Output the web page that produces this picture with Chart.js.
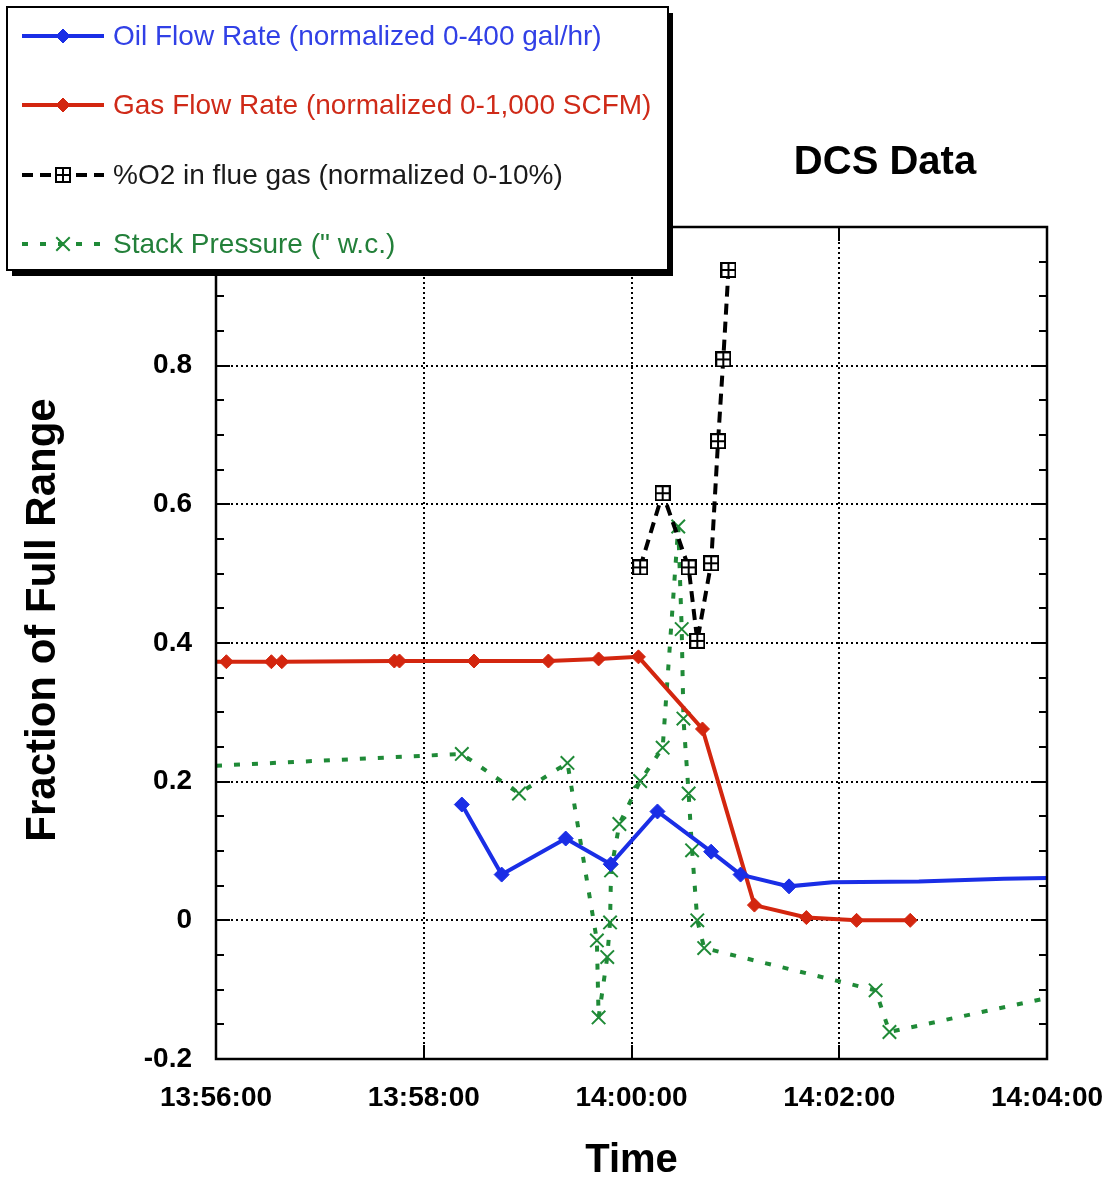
<!DOCTYPE html>
<html>
<head>
<meta charset="utf-8">
<title>DCS Data</title>
<style>
  html, body { margin: 0; padding: 0; background: #fff; }
</style>
<script src="https://cdn.jsdelivr.net/npm/chart.js@4.4.1/dist/chart.umd.min.js"></script>
</head>
<body>
<canvas id="dcs" width="1109" height="1185"></canvas>
<script>
'use strict';

// readings from the DCS log, values are fraction of full range
var oilTimes = ['13:58:22', '13:58:45', '13:59:22', '13:59:48', '14:00:15', '14:00:46',
  '14:01:03', '14:01:31', '14:01:56', '14:02:46', '14:03:35', '14:04:00'];
var oilValues = [0.167, 0.066, 0.118, 0.081, 0.157, 0.099, 0.066, 0.049, 0.055, 0.056, 0.060, 0.061];
var oilMarked = [1, 1, 1, 1, 1, 1, 1, 1, 0, 0, 0, 0];

var gasTimes = ['13:56:00', '13:56:06', '13:56:32', '13:56:38', '13:57:43', '13:57:46', '13:58:29',
  '13:59:12', '13:59:41', '14:00:04', '14:00:41', '14:01:11', '14:01:41', '14:02:10', '14:02:41'];
var gasValues = [0.373, 0.373, 0.373, 0.373, 0.374, 0.374, 0.374, 0.374, 0.377, 0.380,
  0.276, 0.022, 0.004, 0.0, 0.0];
var gasMarked = [0, 1, 1, 1, 1, 1, 1, 1, 1, 1, 1, 1, 1, 1, 1];

var o2Times = ['14:00:05', '14:00:18', '14:00:33', '14:00:38', '14:00:46', '14:00:50', '14:00:53', '14:00:56'];
var o2Values = [0.509, 0.616, 0.509, 0.403, 0.515, 0.691, 0.809, 0.938];

var pressTimes = ['13:56:00', '13:58:22', '13:58:55', '13:59:23', '13:59:40', '13:59:41', '13:59:46',
  '13:59:47.6', '13:59:48.2', '13:59:53', '14:00:05', '14:00:18', '14:00:27', '14:00:29', '14:00:30',
  '14:00:33', '14:00:35', '14:00:38', '14:00:42', '14:02:21', '14:02:29', '14:04:00'];
var pressValues = [0.223, 0.240, 0.183, 0.227, -0.029, -0.140, -0.053, -0.003, 0.072, 0.139, 0.201,
  0.249, 0.568, 0.420, 0.291, 0.183, 0.101, 0.0, -0.040, -0.101, -0.161, -0.112];
var pressMarked = [0, 1, 1, 1, 1, 1, 1, 1, 1, 1, 1, 1, 1, 1, 1, 1, 1, 1, 1, 1, 1, 0];

var timeTicks = ['13:56:00', '13:58:00', '14:00:00', '14:02:00', '14:04:00'];
var fracTicks = [-0.2, 0, 0.2, 0.4, 0.6, 0.8, 1.0];

function toSec(s) {
  var p = s.split(':');
  return (+p[0]) * 3600 + (+p[1]) * 60 + parseFloat(p[2]);
}
function fmtTime(v) {
  var h = Math.floor(v / 3600), m = Math.floor((v % 3600) / 60), s = Math.round(v % 60);
  var pad = function (n) { return (n < 10 ? '0' : '') + n; };
  return pad(h) + ':' + pad(m) + ':' + pad(s);
}
function points(times, values) {
  return times.map(function (t, i) { return { x: toSec(t), y: values[i] }; });
}
function radii(marked, r) {
  return marked.map(function (m) { return m ? r : 0; });
}

// little square with a plus in it, used for the O2 series
function boxPlus(size) {
  var c = document.createElement('canvas');
  c.width = size; c.height = size;
  var g = c.getContext('2d');
  g.fillStyle = '#fff';
  g.fillRect(0, 0, size, size);
  g.strokeStyle = '#000';
  g.lineWidth = 2;
  g.strokeRect(1, 1, size - 2, size - 2);
  g.beginPath();
  g.moveTo(size / 2, 1); g.lineTo(size / 2, size - 1);
  g.moveTo(1, size / 2); g.lineTo(size - 1, size / 2);
  g.stroke();
  return c;
}
var boxMark = boxPlus(16);

var FONT = '"Liberation Sans", Arial, Helvetica, sans-serif';
var xMin = toSec(timeTicks[0]), xMax = toSec(timeTicks[timeTicks.length - 1]);
var yMin = fracTicks[0], yMax = fracTicks[fracTicks.length - 1];

var dcsExtras = {
  id: 'dcsExtras',
  afterDraw: function (chart) {
    var ctx = chart.ctx, a = chart.chartArea;
    var xs = chart.scales.x, ys = chart.scales.y;
    ctx.save();
    // inward ticks on all four sides
    ctx.strokeStyle = '#000';
    ctx.lineWidth = 2;
    ctx.beginPath();
    for (var v = yMin; v <= yMax + 1e-9; v += 0.05) {
      var py = Math.round(ys.getPixelForValue(v));
      var major = Math.abs(v / 0.2 - Math.round(v / 0.2)) < 1e-6;
      var len = major ? 14 : 8;
      ctx.moveTo(a.left, py); ctx.lineTo(a.left + len, py);
      ctx.moveTo(a.right, py); ctx.lineTo(a.right - len, py);
    }
    timeTicks.forEach(function (t) {
      var px = Math.round(xs.getPixelForValue(toSec(t)));
      ctx.moveTo(px, a.bottom); ctx.lineTo(px, a.bottom - 14);
      ctx.moveTo(px, a.top); ctx.lineTo(px, a.top + 14);
    });
    ctx.stroke();
    ctx.lineWidth = 2.5;
    ctx.strokeRect(a.left, a.top, a.right - a.left, a.bottom - a.top);

    // y axis title
    ctx.save();
    ctx.translate(43, 620);
    ctx.rotate(-Math.PI / 2);
    ctx.fillStyle = '#000';
    ctx.font = 'bold 42px ' + FONT;
    ctx.textAlign = 'center';
    ctx.textBaseline = 'middle';
    ctx.fillText('Fraction of Full Range', 0, 0);
    ctx.restore();

    // chart title
    ctx.fillStyle = '#000';
    ctx.font = 'bold 40px ' + FONT;
    ctx.textAlign = 'center';
    ctx.textBaseline = 'middle';
    ctx.fillText('DCS Data', 885, 163);

    // legend box with drop shadow
    var bx = 7, by = 7, bw = 661, bh = 263;
    ctx.fillStyle = '#000';
    ctx.fillRect(bx + 5, by + 6, bw, bh);
    ctx.fillStyle = '#fff';
    ctx.fillRect(bx, by, bw, bh);
    ctx.lineWidth = 2;
    ctx.strokeStyle = '#000';
    ctx.strokeRect(bx, by, bw, bh);

    var textColors = ['#3140e6', '#cf2a18', '#1a1a1a', '#23803a'];
    var rows = [36, 105, 175, 244];
    chart.data.datasets.forEach(function (ds, i) {
      var y = rows[i];
      ctx.save();
      ctx.strokeStyle = ds.borderColor;
      ctx.lineWidth = ds.borderWidth;
      ctx.setLineDash(ds.borderDash || []);
      ctx.beginPath();
      ctx.moveTo(22, y); ctx.lineTo(104, y);
      ctx.stroke();
      ctx.setLineDash([]);
      ctx.fillStyle = ds.pointBackgroundColor;
      ctx.strokeStyle = ds.pointBorderColor;
      ctx.lineWidth = ds.pointBorderWidth;
      Chart.helpers.drawPoint(ctx, {
        pointStyle: ds.pointStyle,
        radius: ds.legendRadius,
        rotation: 0,
        borderWidth: ds.pointBorderWidth
      }, 63, y);
      ctx.restore();
      ctx.fillStyle = textColors[i];
      ctx.font = '28px ' + FONT;
      ctx.textAlign = 'left';
      ctx.textBaseline = 'middle';
      ctx.fillText(ds.label, 113, y + 1);
    });
    ctx.restore();
  }
};

new Chart(document.getElementById('dcs').getContext('2d'), {
  type: 'line',
  data: {
    datasets: [{
      label: 'Oil Flow Rate (normalized 0-400 gal/hr)',
      data: points(oilTimes, oilValues),
      borderColor: '#1a2ee6',
      borderWidth: 4,
      pointStyle: 'rectRot',
      pointRadius: radii(oilMarked, 7.5),
      legendRadius: 7,
      pointBackgroundColor: '#1a2ee6',
      pointBorderColor: '#1a2ee6',
      pointBorderWidth: 1
    }, {
      label: 'Gas Flow Rate (normalized 0-1,000 SCFM)',
      data: points(gasTimes, gasValues),
      borderColor: '#d3260f',
      borderWidth: 4,
      pointStyle: 'rectRot',
      pointRadius: radii(gasMarked, 7),
      legendRadius: 7,
      pointBackgroundColor: '#d3260f',
      pointBorderColor: '#d3260f',
      pointBorderWidth: 1
    }, {
      label: '%O2 in flue gas (normalized 0-10%)',
      data: points(o2Times, o2Values),
      borderColor: '#000',
      borderWidth: 4,
      borderDash: [11, 7],
      pointStyle: boxMark,
      pointRadius: 8,
      legendRadius: 8,
      pointBackgroundColor: '#fff',
      pointBorderColor: '#000',
      pointBorderWidth: 1
    }, {
      label: 'Stack Pressure (" w.c.)',
      data: points(pressTimes, pressValues),
      borderColor: '#1f8a37',
      borderWidth: 4,
      borderDash: [6, 12],
      pointStyle: 'crossRot',
      pointRadius: radii(pressMarked, 9.5),
      legendRadius: 9.5,
      pointBackgroundColor: '#1f8a37',
      pointBorderColor: '#1f8a37',
      pointBorderWidth: 2
    }]
  },
  options: {
    responsive: false,
    devicePixelRatio: 1,
    animation: false,
    layout: { padding: { left: 0, right: 62, top: 227, bottom: 0 } },
    plugins: { legend: { display: false }, tooltip: { enabled: false } },
    elements: { line: { tension: 0 } },
    scales: {
      x: {
        type: 'linear',
        min: xMin,
        max: xMax,
        afterBuildTicks: function (s) { s.ticks = timeTicks.map(function (t) { return { value: toSec(t) }; }); },
        afterFit: function (s) { s.height = 126; s.paddingLeft = 0; s.paddingRight = 0; },
        border: { display: false, dash: [2, 3] },
        grid: { color: '#000', lineWidth: 2, drawTicks: false },
        ticks: {
          color: '#000',
          padding: 22,
          maxRotation: 0,
          autoSkip: false,
          font: { family: FONT, size: 28, weight: 'bold' },
          callback: function (v) { return fmtTime(v); }
        },
        title: {
          display: true,
          text: 'Time',
          color: '#000',
          padding: { top: 0, bottom: 0 },
          font: { family: FONT, size: 40, weight: 'bold' }
        }
      },
      y: {
        min: yMin,
        max: yMax,
        afterBuildTicks: function (s) { s.ticks = fracTicks.map(function (v) { return { value: v }; }); },
        afterFit: function (s) { s.width = 216; s.paddingTop = 0; s.paddingBottom = 0; },
        border: { display: false, dash: [2, 3] },
        grid: { color: '#000', lineWidth: 2, drawTicks: false },
        ticks: {
          color: '#000',
          padding: 24,
          font: { family: FONT, size: 28, weight: 'bold' },
          callback: function (v) { return String(Number(v.toFixed(1))); }
        }
      }
    }
  },
  plugins: [dcsExtras]
});
</script>
</body>
</html>
